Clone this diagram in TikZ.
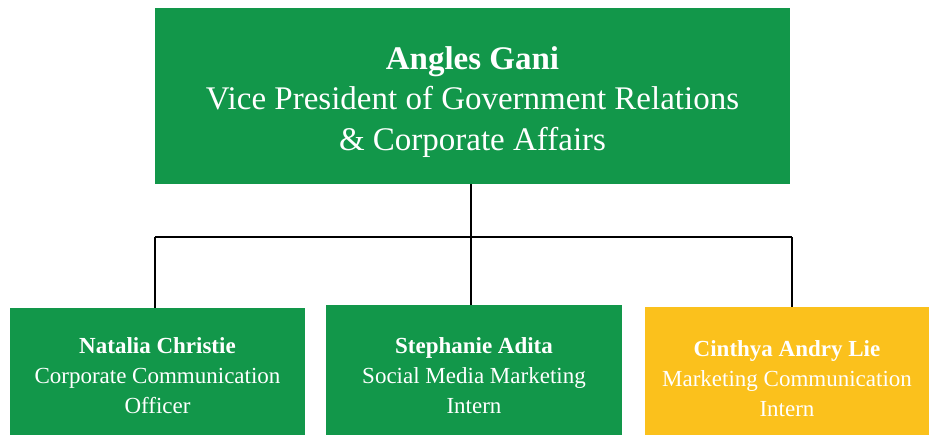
\documentclass[tikz,border=0pt]{standalone}
\usepackage{fontspec}
\setmainfont{Liberation Serif}
\definecolor{boxgreen}{RGB}{18,151,74}
\definecolor{boxyellow}{RGB}{251,193,28}
\begin{document}
\begin{tikzpicture}[x=1pt,y=-1pt,
  box/.style={draw=none,inner sep=0pt},
  toptext/.style={text=white,align=center,inner sep=0pt,font=\fontsize{33}{40.5}\selectfont},
  subtext/.style={text=white,align=center,inner sep=0pt,font=\fontsize{23}{30}\selectfont},
  link/.style={draw=black,line width=2.5pt}]
\useasboundingbox (0,0) rectangle (933,434);
\node[box,fill=boxgreen,minimum width=635pt,minimum height=176pt] (vp) at (472.5,96) {};
\node[box,fill=boxgreen,minimum width=295pt,minimum height=134pt] (nc) at (157.5,375) {};
\node[box,fill=boxgreen,minimum width=296pt,minimum height=137pt] (sa) at (474,373.5) {};
\node[box,fill=boxyellow,minimum width=284pt,minimum height=135pt] (cl) at (787,374.5) {};
\node[toptext] (vpt) at (472.5,102) {\textbf{Angles Gani}\\Vice President of Government Relations\\\& Corporate Affairs};
\node[subtext] (nct) at (157.5,376) {\textbf{Natalia Christie}\\Corporate Communication\\Officer};
\node[subtext] (sat) at (474,376) {\textbf{Stephanie Adita}\\Social Media Marketing\\Intern};
\node[subtext] (clt) at (787,379) {\textbf{Cinthya Andry Lie}\\Marketing Communication\\Intern};
\coordinate (hl) at (155,237);
\coordinate (hm) at (471,237);
\coordinate (hr) at (792,237);
\draw[link] (vp.south -| hm) -- (hm);
\draw[link] (hl) -- (hr);
\draw[link] (hl) -- (hl |- nc.north);
\draw[link] (hm) -- (hm |- sa.north);
\draw[link] (hr) -- (hr |- cl.north);
\end{tikzpicture}
\end{document}
